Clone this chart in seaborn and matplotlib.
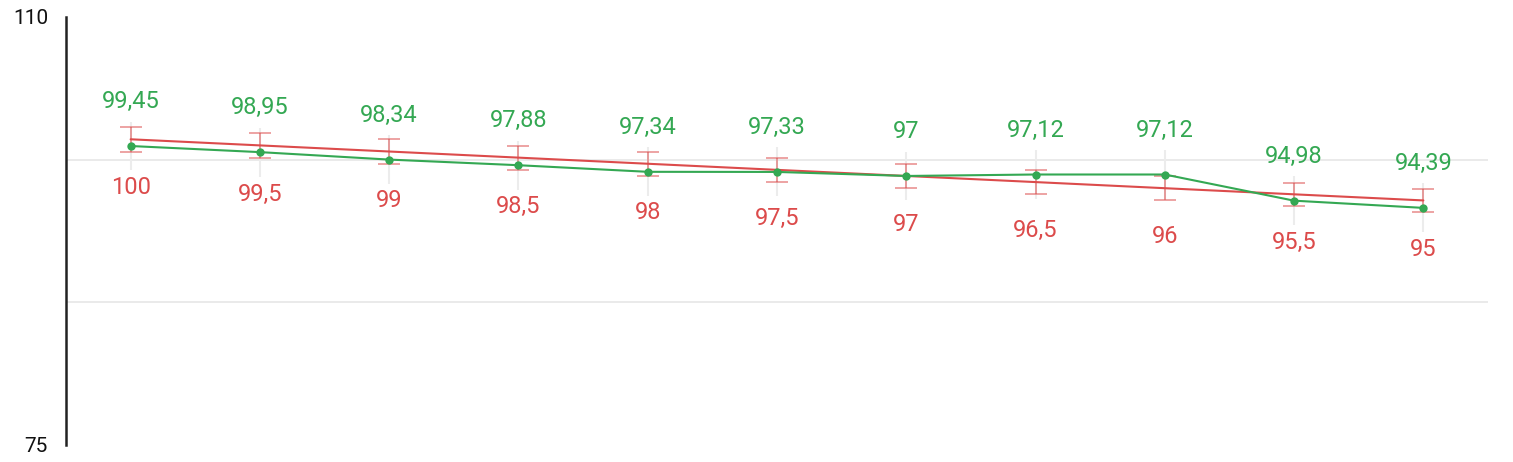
import numpy as np
import pandas as pd
import matplotlib
matplotlib.use('Agg')
import matplotlib.pyplot as plt
import seaborn as sns

## DATA
categories = ['1', '2', '3', '4', '5', '6', '7', '8', '9', '10', '11']
actual = [99.45, 98.95, 98.34, 97.88, 97.34, 97.33, 97.0, 97.12, 97.12, 94.98, 94.39]
actual_labels = ['99,45', '98,95', '98,34', '97,88', '97,34', '97,33', '97', '97,12', '97,12', '94,98', '94,39']
actual_err = [2.0, 2.0, 2.0, 2.0, 2.0, 2.0, 2.0, 2.0, 2.0, 2.0, 2.0]
target = [100, 99.5, 99, 98.5, 98, 97.5, 97, 96.5, 96, 95.5, 95]
target_labels = ['100', '99,5', '99', '98,5', '98', '97,5', '97', '96,5', '96', '95,5', '95']
target_err = [1.0, 0.995, 0.99, 0.985, 0.98, 0.975, 0.97, 0.965, 0.96, 0.955, 0.95]
y_min, y_max = 75, 110

GREEN = '#34a853'
RED = '#dc4b4b'

df = pd.DataFrame({'cat': categories, 'actual': actual, 'target': target})

sns.set_style('white')
plt.rcParams['font.family'] = ['Roboto', 'DejaVu Sans']

fig = plt.figure(figsize=(15.13, 4.62), dpi=100)
ax = fig.add_axes([66 / 1513, 17 / 462, 1422 / 1513, 428 / 462])

xs = np.arange(len(categories))

# faint error bars on the actual series
ax.errorbar(xs, actual, yerr=actual_err, fmt='none', ecolor='#ececec', elinewidth=1.5, capsize=0, zorder=1)
# target error bars
ax.errorbar(xs, target, yerr=target_err, fmt='none', ecolor=RED, alpha=0.55, elinewidth=1.3,
            capsize=8, capthick=1.3, zorder=2)

sns.lineplot(data=df, x='cat', y='target', ax=ax, color=RED, linewidth=1.5, sort=False, zorder=3)
sns.lineplot(data=df, x='cat', y='actual', ax=ax, color=GREEN, linewidth=1.5, sort=False,
             marker='o', markersize=6, markeredgewidth=0, zorder=4)

for i in range(len(categories)):
    ax.annotate(actual_labels[i], (xs[i], actual[i]), xytext=(0, 32), textcoords='offset points',
                ha='center', va='center', color=GREEN, fontsize=17)
    ax.annotate(target_labels[i], (xs[i], target[i]), xytext=(0, -35), textcoords='offset points',
                ha='center', va='center', color=RED, fontsize=17)

ax.set_xlim(-0.5, len(categories) - 0.5)
ax.set_ylim(y_min, y_max)
ax.set_yticks([y_min, y_max])
ax.set_yticklabels([str(y_min), str(y_max)], fontsize=15, color='#111111')
ax.set_xticks([])
for g in [y_max - (y_max - y_min) / 3, y_max - 2 * (y_max - y_min) / 3]:
    ax.axhline(g, color='#e6e6e6', linewidth=1.2, zorder=0)
ax.set_xlabel('')
ax.set_ylabel('')
for s in ['top', 'right', 'bottom']:
    ax.spines[s].set_visible(False)
ax.spines['left'].set_color('#222222')
ax.spines['left'].set_linewidth(1.8)
ax.tick_params(axis='y', length=0, pad=13)

fig.savefig('out.png', dpi=100)
